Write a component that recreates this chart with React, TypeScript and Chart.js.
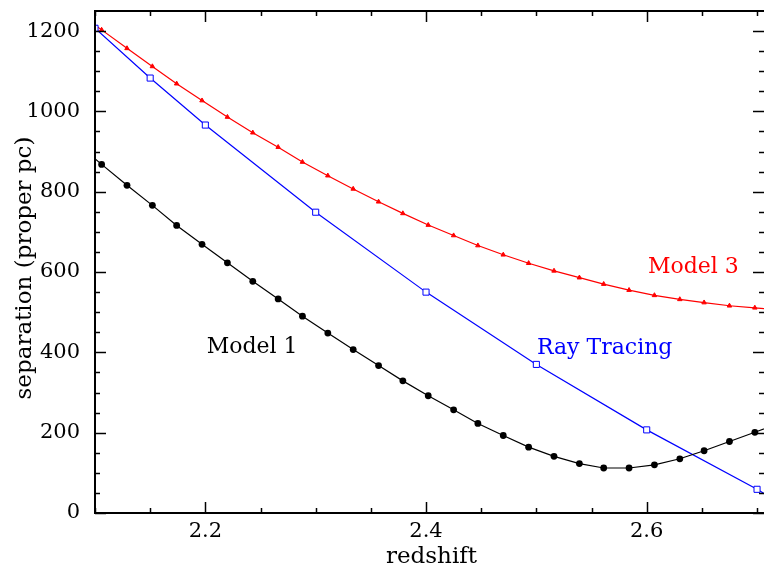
import React, { useEffect, useRef } from "react";
import { Chart, registerables } from "chart.js";

Chart.register(...registerables);

// ---- data ----
const redshift = [
  2.106, 2.129, 2.152, 2.174, 2.197, 2.22, 2.243, 2.266, 2.288, 2.311, 2.334,
  2.357, 2.379, 2.402, 2.425, 2.447, 2.47, 2.493, 2.516, 2.539, 2.561, 2.584,
  2.607, 2.63, 2.652, 2.675, 2.698,
];
const model1Sep = [
  868, 816, 766, 716, 669, 623, 577, 533, 490, 448, 407, 367, 329, 292, 257,
  223, 193, 164, 141, 123, 112, 112, 120, 135, 155, 178, 201,
];
const model3Sep = [
  1203, 1157, 1112, 1069, 1027, 986, 947, 911, 874, 840, 807, 775, 746, 717,
  691, 666, 643, 622, 603, 586, 570, 555, 542, 532, 524, 516, 511,
];
const rayRedshift = [2.1, 2.15, 2.2, 2.3, 2.4, 2.5, 2.6, 2.7];
const raySep = [1207, 1083, 966, 749, 550, 370, 207, 59];

// continuation of the curves just outside the frame (clipped by the axes)
const edgeRedshift = [2.09, 2.72];
const model1Edge = [905, 224];
const model3Edge = [1236, 506];
const rayEdgeRedshift = [2.72];
const rayEdge = [26];

// axes
const xMin = 2.1;
const xMax = 2.7063;
const yMin = 0;
const yMax = 1250;
const xMajorTicks = [2.2, 2.4, 2.6];
const xMinorTicks = [2.1, 2.15, 2.25, 2.3, 2.35, 2.45, 2.5, 2.55, 2.65, 2.7];
const yMajorTicks = [0, 200, 400, 600, 800, 1000, 1200];
const yMinorTicks = [
  50, 100, 150, 250, 300, 350, 450, 500, 550, 650, 700, 750, 850, 900, 950,
  1050, 1100, 1150,
];

// in-plot labels
const labelTexts = ["Model 1", "Ray Tracing", "Model 3"];
const labelRedshift = [2.2012, 2.5005, 2.6011];
const labelSep = [398, 396, 598];
const labelColors = ["#000000", "#0000ff", "#ff0000"];

const xTitle = "redshift";
const yTitle = "separation (proper pc)";

const pts = (xs: number[], ys: number[]) => xs.map((x, i) => ({ x, y: ys[i] }));

const FONT = "'DejaVu Serif', serif";

const framePlugin = {
  id: "frame",
  afterDatasetsDraw(chart: any) {
    const { ctx, chartArea: a, scales } = chart;
    const xs = scales.x;
    const ys = scales.y;
    ctx.save();
    ctx.strokeStyle = "#000";
    ctx.lineWidth = 2;
    ctx.beginPath();
    ctx.moveTo(a.right + 2, a.top);
    ctx.lineTo(a.left, a.top);
    ctx.lineTo(a.left, a.bottom);
    ctx.lineTo(a.right + 2, a.bottom);
    ctx.stroke();

    ctx.lineWidth = 1.5;
    const seg = (x1: number, y1: number, x2: number, y2: number) => {
      ctx.beginPath();
      ctx.moveTo(x1, y1);
      ctx.lineTo(x2, y2);
      ctx.stroke();
    };
    const xt = (vals: number[], len: number) =>
      vals.forEach((v) => {
        const p = Math.round(xs.getPixelForValue(v)) + 0.5;
        seg(p, a.bottom, p, a.bottom - len);
        seg(p, a.top, p, a.top + len);
      });
    const yt = (vals: number[], len: number) =>
      vals.forEach((v) => {
        const p = Math.round(ys.getPixelForValue(v)) + 0.5;
        seg(a.left, p, a.left + len, p);
        seg(a.right, p, a.right - len, p);
      });
    xt(xMajorTicks, 11);
    xt(xMinorTicks, 5);
    yt(yMajorTicks, 11);
    yt(yMinorTicks, 5);

    // in-plot labels
    ctx.font = `22px ${FONT}`;
    ctx.textAlign = "left";
    ctx.textBaseline = "alphabetic";
    labelTexts.forEach((t, i) => {
      ctx.fillStyle = labelColors[i];
      ctx.fillText(t, xs.getPixelForValue(labelRedshift[i]), ys.getPixelForValue(labelSep[i]));
    });

    // axis titles
    ctx.fillStyle = "#000";
    ctx.font = `23px ${FONT}`;
    ctx.textAlign = "center";
    ctx.fillText(xTitle, (a.left + a.right) / 2 + 2, 563);
    ctx.translate(31, (a.top + a.bottom) / 2 + 6);
    ctx.rotate(-Math.PI / 2);
    ctx.fillText(yTitle, 0, 0);
    ctx.restore();
  },
};

export default function App() {
  const ref = useRef<HTMLCanvasElement | null>(null);

  useEffect(() => {
    document.body.style.margin = "0";
    document.body.style.overflow = "hidden";
    const canvas = ref.current;
    if (!canvas) return;

    const model1Data = [
      { x: edgeRedshift[0], y: model1Edge[0] },
      ...pts(redshift, model1Sep),
      { x: edgeRedshift[1], y: model1Edge[1] },
    ];
    const model3Data = [
      { x: edgeRedshift[0], y: model3Edge[0] },
      ...pts(redshift, model3Sep),
      { x: edgeRedshift[1], y: model3Edge[1] },
    ];
    const rayData = [...pts(rayRedshift, raySep), ...pts(rayEdgeRedshift, rayEdge)];

    const tickFont = { family: FONT, size: 21 };

    const chart = new Chart(canvas, {
      type: "line",
      data: {
        datasets: [
          {
            label: "Model 1",
            data: model1Data,
            borderColor: "#000000",
            borderWidth: 1.2,
            pointStyle: "circle",
            pointRadius: 3.4,
            pointBorderWidth: 0,
            pointBackgroundColor: "#000000",
            tension: 0,
          },
          {
            label: "Ray Tracing",
            data: rayData,
            borderColor: "#0000ff",
            borderWidth: 1.2,
            pointStyle: "rect",
            pointRadius: 4.3,
            pointBorderWidth: 1,
            pointBorderColor: "#0000ff",
            pointBackgroundColor: "#ffffff",
            tension: 0,
          },
          {
            label: "Model 3",
            data: model3Data,
            borderColor: "#ff0000",
            borderWidth: 1.2,
            pointStyle: "triangle",
            pointRadius: 2.6,
            pointBorderWidth: 1,
            pointBorderColor: "#ff0000",
            pointBackgroundColor: "#ff0000",
            tension: 0,
          },
        ],
      },
      options: {
        animation: false,
        responsive: false,
        maintainAspectRatio: false,
        devicePixelRatio: 1,
        layout: { autoPadding: false, padding: { top: 11, right: 0, left: 0, bottom: 0 } },
        plugins: { legend: { display: false }, tooltip: { enabled: false } },
        scales: {
          x: {
            type: "linear",
            min: xMin,
            max: xMax,
            grid: { display: false, drawTicks: false },
            border: { display: false },
            ticks: {
              font: tickFont,
              color: "#000",
              padding: 6,
              maxRotation: 0,
              autoSkip: false,
              callback: (v: any) => Number(v).toFixed(1),
            },
            afterBuildTicks: (s: any) => {
              s.ticks = xMajorTicks.map((value) => ({ value }));
            },
            afterFit: (s: any) => {
              s.height = 52;
              s.paddingLeft = 0;
              s.paddingRight = 0;
              s.paddingTop = 0;
              s.paddingBottom = 0;
            },
          },
          y: {
            type: "linear",
            min: yMin,
            max: yMax,
            grid: { display: false, drawTicks: false },
            border: { display: false },
            ticks: {
              font: tickFont,
              color: "#000",
              padding: 15,
              autoSkip: false,
              callback: (v: any) => String(v),
            },
            afterBuildTicks: (s: any) => {
              s.ticks = yMajorTicks.map((value) => ({ value }));
            },
            afterFit: (s: any) => {
              s.width = 95;
              s.paddingTop = 0;
              s.paddingBottom = 0;
              s.paddingLeft = 0;
              s.paddingRight = 0;
            },
          },
        },
      },
      plugins: [framePlugin],
    } as any);

    return () => chart.destroy();
  }, []);

  return (
    <canvas
      ref={ref}
      width={764}
      height={565}
      style={{ display: "block", width: 764, height: 565 }}
    />
  );
}
